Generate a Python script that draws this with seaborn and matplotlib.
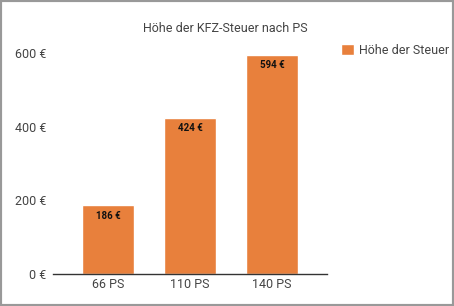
import matplotlib
matplotlib.use("Agg")
import matplotlib.pyplot as plt
import seaborn as sns
import pandas as pd
from matplotlib.patches import Rectangle

categories = ["66 PS", "110 PS", "140 PS"]
values = [186, 424, 594]
value_labels = ["186 €", "424 €", "594 €"]
yticks = [0, 200, 400, 600]
ytick_labels = ["0 €", "200 €", "400 €", "600 €"]
series_name = "Höhe der Steuer"
title = "Höhe der KFZ-Steuer nach PS"

sns.set_style("white")
plt.rcParams["font.family"] = ["Roboto", "DejaVu Sans"]

df = pd.DataFrame({"PS": categories, "Steuer": values})
color = "#E8803C"

fig = plt.figure(figsize=(4.54, 3.06), dpi=100)
W, H = 454, 306
ax = fig.add_axes([53 / W, 1 - 274 / H, (327 - 53) / W, (274 - 53) / H])
sns.barplot(data=df, x="PS", y="Steuer", color=color, width=0.634, ax=ax,
            saturation=1, label=series_name)
ax.set_xlim(-0.67, 2.67)
ax.set_ylim(0, 600)
ax.set_yticks(yticks)
ax.set_yticklabels(ytick_labels)
ax.set_xlabel("")
ax.set_ylabel("")
for s in ["top", "right", "left"]:
    ax.spines[s].set_visible(False)
ax.spines["bottom"].set_color("#333333")
ax.spines["bottom"].set_linewidth(1.0)
ax.tick_params(axis="both", length=0, labelsize=9, colors="#444444")
ax.tick_params(axis="y", pad=5)
ax.tick_params(axis="x", pad=3)

for i, (v, lab) in enumerate(zip(values, value_labels)):
    ax.text(i, v - 14, lab, ha="center", va="top", fontsize=7,
            fontweight="bold", color="#111111")

fig.text(0.497, 1 - 28 / H, title, ha="center", va="center", fontsize=9,
         color="#444444")

leg = ax.legend(loc="upper left", bbox_to_anchor=(341 / W, 1 - 44 / H),
                bbox_transform=fig.transFigure, frameon=False, fontsize=9,
                handlelength=1.0, handleheight=1.0, handletextpad=0.45,
                borderaxespad=0, borderpad=0)
for t in leg.get_texts():
    t.set_color("#444444")

fig.patches.append(Rectangle((0, 0), 1, 1, transform=fig.transFigure,
                             fill=False, edgecolor="#999999", linewidth=3,
                             zorder=10))

fig.savefig("out.png", dpi=100)
